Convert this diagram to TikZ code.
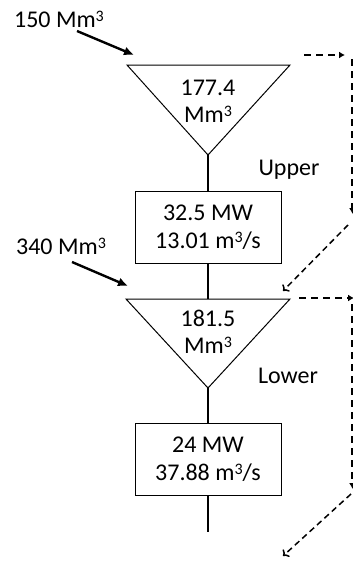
\documentclass[tikz,border=0pt]{standalone}
\usepackage{fontspec}
\setmainfont{Carlito}
\usetikzlibrary{arrows.meta}
% superscript three, set low and small as in the labels
\newcommand\cubed{\raisebox{6pt}{\fontsize{16}{16}\selectfont 3}}
\begin{document}
\begin{tikzpicture}[x=1pt,y=-1pt,
  lbl/.style={font=\fontsize{24}{27}\selectfont, inner sep=0pt, align=center},
  plant/.style={draw, line width=1pt, minimum width=146pt, minimum height=72pt,
    inner sep=0pt, align=center, font=\fontsize{24}{28}\selectfont},
  basin/.style={draw, line width=1pt, line join=miter},
  shaft/.style={line width=2.8pt},
  inflow/.style={line width=2.4pt, -{Latex[length=10pt,width=9pt]}},
  spill/.style={line width=2.8pt, dash pattern=on 7pt off 5pt, -{Latex[length=6pt,width=7pt]}},
  release/.style={line width=1.5pt, dash pattern=on 6pt off 4pt, -{To[length=5pt,width=10pt,line width=1.5pt]}}
]
\useasboundingbox (0,0) rectangle (353,562);
\clip (0,0) rectangle (353,562);

% reservoir corners
\coordinate (uTL) at (127,65);
\coordinate (uTR) at (290,65);
\coordinate (uB)  at (208,155);
\coordinate (lTL) at (126,299);
\coordinate (lTR) at (290,299);
\coordinate (lB)  at (208,388);

% reservoirs
\draw[basin] (uTL) -- (uTR) -- (uB) -- cycle;
\draw[basin] (lTL) -- (lTR) -- (lB) -- cycle;
\node[lbl] (uvol) at (208,101) {177.4\\Mm\cubed};
\node[lbl] (lvol) at (208,332) {181.5\\Mm\cubed};
\node[lbl] (uname) at (289,170) {Upper};
\node[lbl] (lname) at (288,376) {Lower};

% power stations
\node[plant] (up) at (208,227.5) {32.5 MW\\13.01 m\cubed/s};
\node[plant] (lp) at (208,459.5) {24 MW\\37.88 m\cubed/s};
\coordinate (lTop) at (208,299);
\coordinate (outlet) at (208,532);

% water ways
\draw[shaft] (uB) -- (up.north);
\draw[shaft] (up.south) -- (lTop);
\draw[shaft] (lB) -- (lp.north);
\draw[shaft] (lp.south) -- (outlet);

% inflows
\node[lbl] (uin) at (59,19) {150 Mm\cubed};
\node[lbl] (lin) at (61,246) {340 Mm\cubed};
\coordinate (uinA) at (77,31);
\coordinate (uinB) at (134,55);
\coordinate (linA) at (72,262);
\coordinate (linB) at (128,286);
\draw[inflow] (uinA) -- (uinB);
\draw[inflow] (linA) -- (linB);

% spill routes
\coordinate (s1a) at (304,55);
\coordinate (s1b) at (345,55);
\coordinate (s1c) at (352.5,59);
\coordinate (s1d) at (352.5,214);
\coordinate (s1e) at (348,225);
\coordinate (s1f) at (283,291);
\draw[spill] (s1a) -- (s1b);
\draw[spill] (s1c) -- (s1d);
\draw[release] (s1e) -- (s1f);

\coordinate (s2a) at (299,298);
\coordinate (s2b) at (354,298);
\coordinate (s2c) at (352.5,304);
\coordinate (s2d) at (352.5,489);
\coordinate (s2e) at (351,494);
\coordinate (s2f) at (283,556);
\draw[spill] (s2a) -- (s2b);
\draw[spill] (s2c) -- (s2d);
\draw[release] (s2e) -- (s2f);
\end{tikzpicture}
\end{document}
